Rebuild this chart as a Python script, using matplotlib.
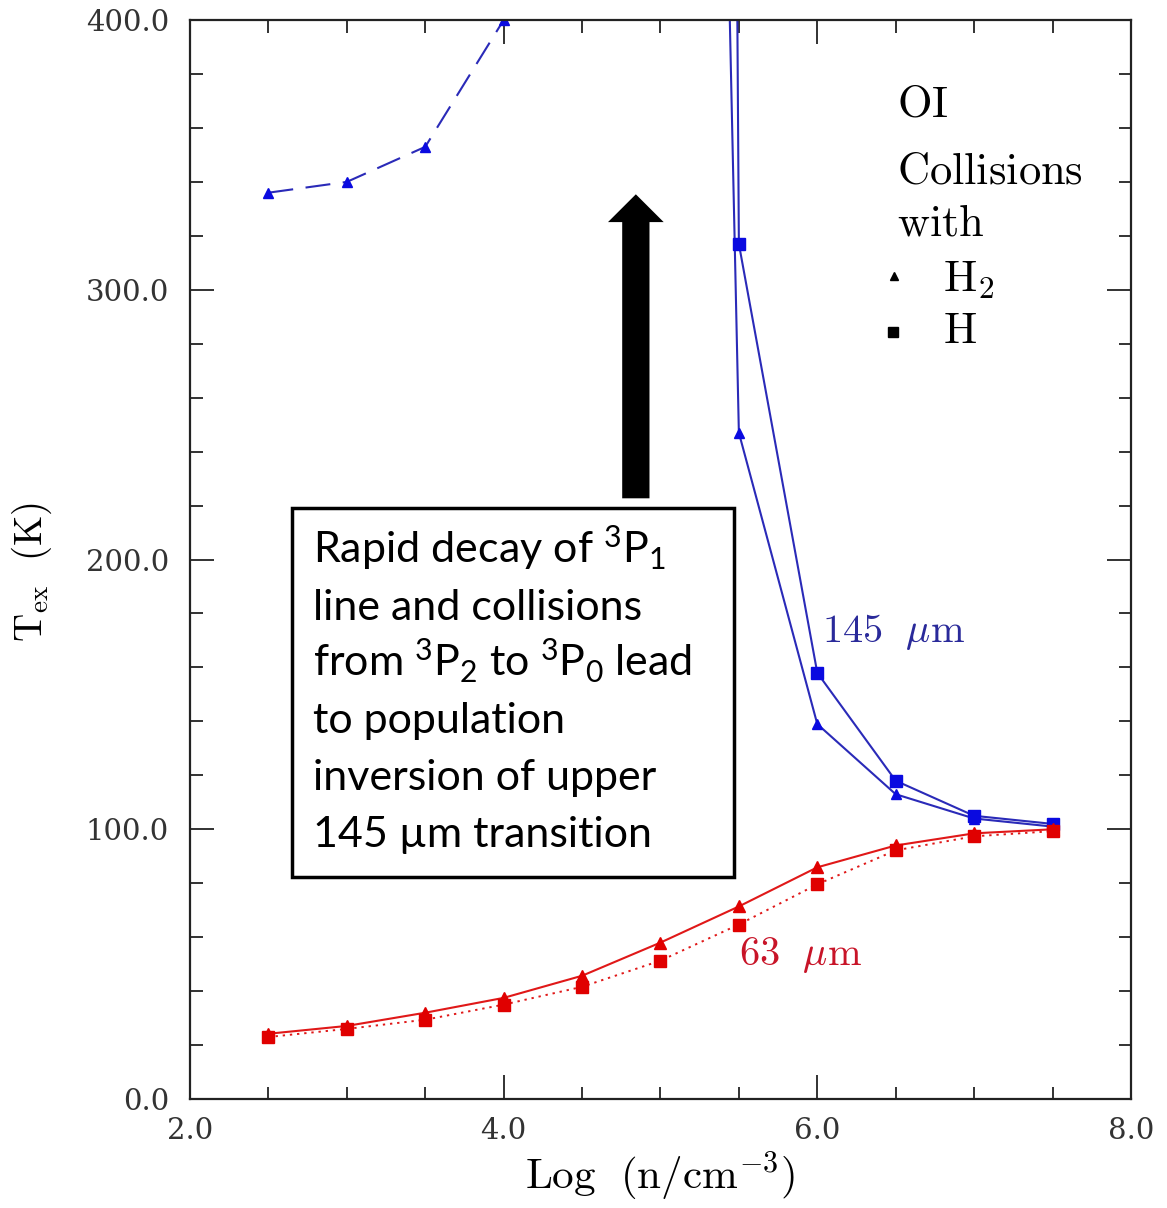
import matplotlib
matplotlib.use("Agg")
import matplotlib.pyplot as plt
from matplotlib.patches import FancyArrow, Rectangle
from matplotlib.ticker import MultipleLocator, FormatStrFormatter

plt.rcParams['mathtext.fontset'] = 'cm'
# fonts used by the "custom" math set (only for the annotation box)
plt.rcParams['mathtext.rm'] = 'Lato'
plt.rcParams['mathtext.it'] = 'Lato:italic'
plt.rcParams['mathtext.bf'] = 'Lato:bold'

# =========================
# DATA
# =========================
# 145 um, collisions with H2 (low density branch, dashed)
logn_h2_low = [2.5, 3.0, 3.5, 4.0]
tex145_h2_low = [336, 340, 353, 400]
# 145 um, collisions with H2 (high density branch, solid; 5.0 is off the top)
logn_high = [5.0, 5.5, 6.0, 6.5, 7.0, 7.5]
tex145_h2_high = [1570, 247, 139, 113, 104, 101]
# 145 um, collisions with H
tex145_h_high = [4600, 317, 158, 118, 105, 102]

# 63 um
logn_63 = [2.5, 3.0, 3.5, 4.0, 4.5, 5.0, 5.5, 6.0, 6.5, 7.0, 7.5]
tex63_h2 = [24.2, 27.1, 32.0, 37.5, 45.7, 58.0, 71.4, 85.9, 94.0, 98.5, 100.0]
tex63_h = [23.0, 26.0, 29.4, 35.0, 41.6, 51.3, 64.7, 79.6, 92.2, 97.4, 99.3]

box_lines = [
    r"Rapid decay of $^{3}\mathrm{P}_{1}$",
    r"line and collisions",
    r"from $^{3}\mathrm{P}_{2}$ to $^{3}\mathrm{P}_{0}$ lead",
    r"to population",
    r"inversion of upper",
    r"145 µm transition",
]

BLUE_LINE = '#2a2ab8'
BLUE_MK = '#0a0ae0'
RED_LINE = '#e01818'
RED_MK = '#e00000'

# =========================
# FIGURE
# =========================
fig = plt.figure(figsize=(11.67, 12.08), dpi=100)
ax = fig.add_axes([0.1628, 0.0902, 0.8063, 0.8932])

# 145 um curves
ax.plot(logn_h2_low, tex145_h2_low, color=BLUE_LINE, lw=1.5,
        linestyle=(0, (12, 6)), marker='^', ms=7, mfc=BLUE_MK, mec=BLUE_MK)
ax.plot(logn_high, tex145_h2_high, color=BLUE_LINE, lw=1.5,
        marker='^', ms=7, mfc=BLUE_MK, mec=BLUE_MK)
ax.plot(logn_high, tex145_h_high, color=BLUE_LINE, lw=1.5,
        marker='s', ms=8, mfc=BLUE_MK, mec=BLUE_MK)

# 63 um curves
ax.plot(logn_63, tex63_h2, color=RED_LINE, lw=1.5,
        marker='^', ms=8, mfc=RED_MK, mec=RED_MK)
ax.plot(logn_63, tex63_h, color=RED_LINE, lw=1.4,
        linestyle=(0, (1.2, 2.5)), marker='s', ms=8, mfc=RED_MK, mec=RED_MK)

ax.set_xlim(2.0, 8.0)
ax.set_ylim(0.0, 400.0)

# axes styling
ax.xaxis.set_major_locator(MultipleLocator(2.0))
ax.xaxis.set_minor_locator(MultipleLocator(0.5))
ax.yaxis.set_major_locator(MultipleLocator(100.0))
ax.yaxis.set_minor_locator(MultipleLocator(20.0))
ax.xaxis.set_major_formatter(FormatStrFormatter('%.1f'))
ax.yaxis.set_major_formatter(FormatStrFormatter('%.1f'))
ax.tick_params(which='both', direction='in', top=True, right=True,
               colors='#222222', width=1.3)
ax.tick_params(which='major', length=17)
ax.tick_params(which='minor', length=9)
ax.tick_params(axis='x', pad=13, labelsize=21, labelcolor='#333333')
ax.tick_params(axis='y', pad=15, labelsize=21, labelcolor='#333333')
for lab in ax.get_xticklabels() + ax.get_yticklabels():
    lab.set_family('DejaVu Serif')
for sp in ax.spines.values():
    sp.set_linewidth(1.6)
    sp.set_color('#222222')

# axis labels
ax.set_xlabel(r'$\mathrm{Log\ \ (n/cm^{-3})}$', fontsize=31, labelpad=3)
fig.text(32 / 1167, 1 - 572 / 1208, r'$\mathrm{T_{ex}\ \ (K)}$', fontsize=28,
         rotation=90, ha='center', va='center')

# curve labels
ax.text(6.028, 169.6, r'$\mathrm{145}\ \ \mu\mathrm{m}$', fontsize=29,
        color='#2a2a9a', va='baseline', ha='left')
ax.text(5.503, 49.7, r'$\mathrm{63}\ \ \mu\mathrm{m}$', fontsize=29,
        color='#c81428', va='baseline', ha='left')

# legend block
ax.text(6.506, 364.1, r'$\mathrm{OI}$', fontsize=32, va='baseline')
ax.text(6.506, 339.5, r'$\mathrm{Collisions}$', fontsize=32, va='baseline')
ax.text(6.506, 320.3, r'$\mathrm{with}$', fontsize=32, va='baseline')
ax.plot([6.49], [305.2], marker='^', ms=6, color='black', ls='none')
ax.plot([6.485], [284.5], marker='s', ms=7, color='black', ls='none')
ax.text(6.80, 299.3, r'$\mathrm{H_2}$', fontsize=32, va='baseline')
ax.text(6.80, 280.2, r'$\mathrm{H}$', fontsize=32, va='baseline')

# big black arrow
ax.add_patch(FancyArrow(4.843, 222.7, 0, 335.4 - 222.7, width=0.174,
                        head_width=0.355, head_length=10.3,
                        length_includes_head=True, color='black', lw=0))

# annotation box (figure pixel coordinates)
W, H = 1167.0, 1208.0
box = Rectangle((291.7 / W, 1 - 876.7 / H), (734 - 291.7) / W, (876.7 - 508.3) / H,
                transform=fig.transFigure, fill=True, facecolor='white',
                edgecolor='black', lw=2.5)
fig.patches.append(box)
baselines = [562.7, 619.5, 676.3, 733.1, 789.9, 846.7]
for line, yb in zip(box_lines, baselines):
    fig.text(312.7 / W, 1 - yb / H, line, fontsize=31, va='baseline', ha='left',
             family=['Lato', 'DejaVu Sans'], math_fontfamily='custom')

fig.savefig('out.png', dpi=100)
